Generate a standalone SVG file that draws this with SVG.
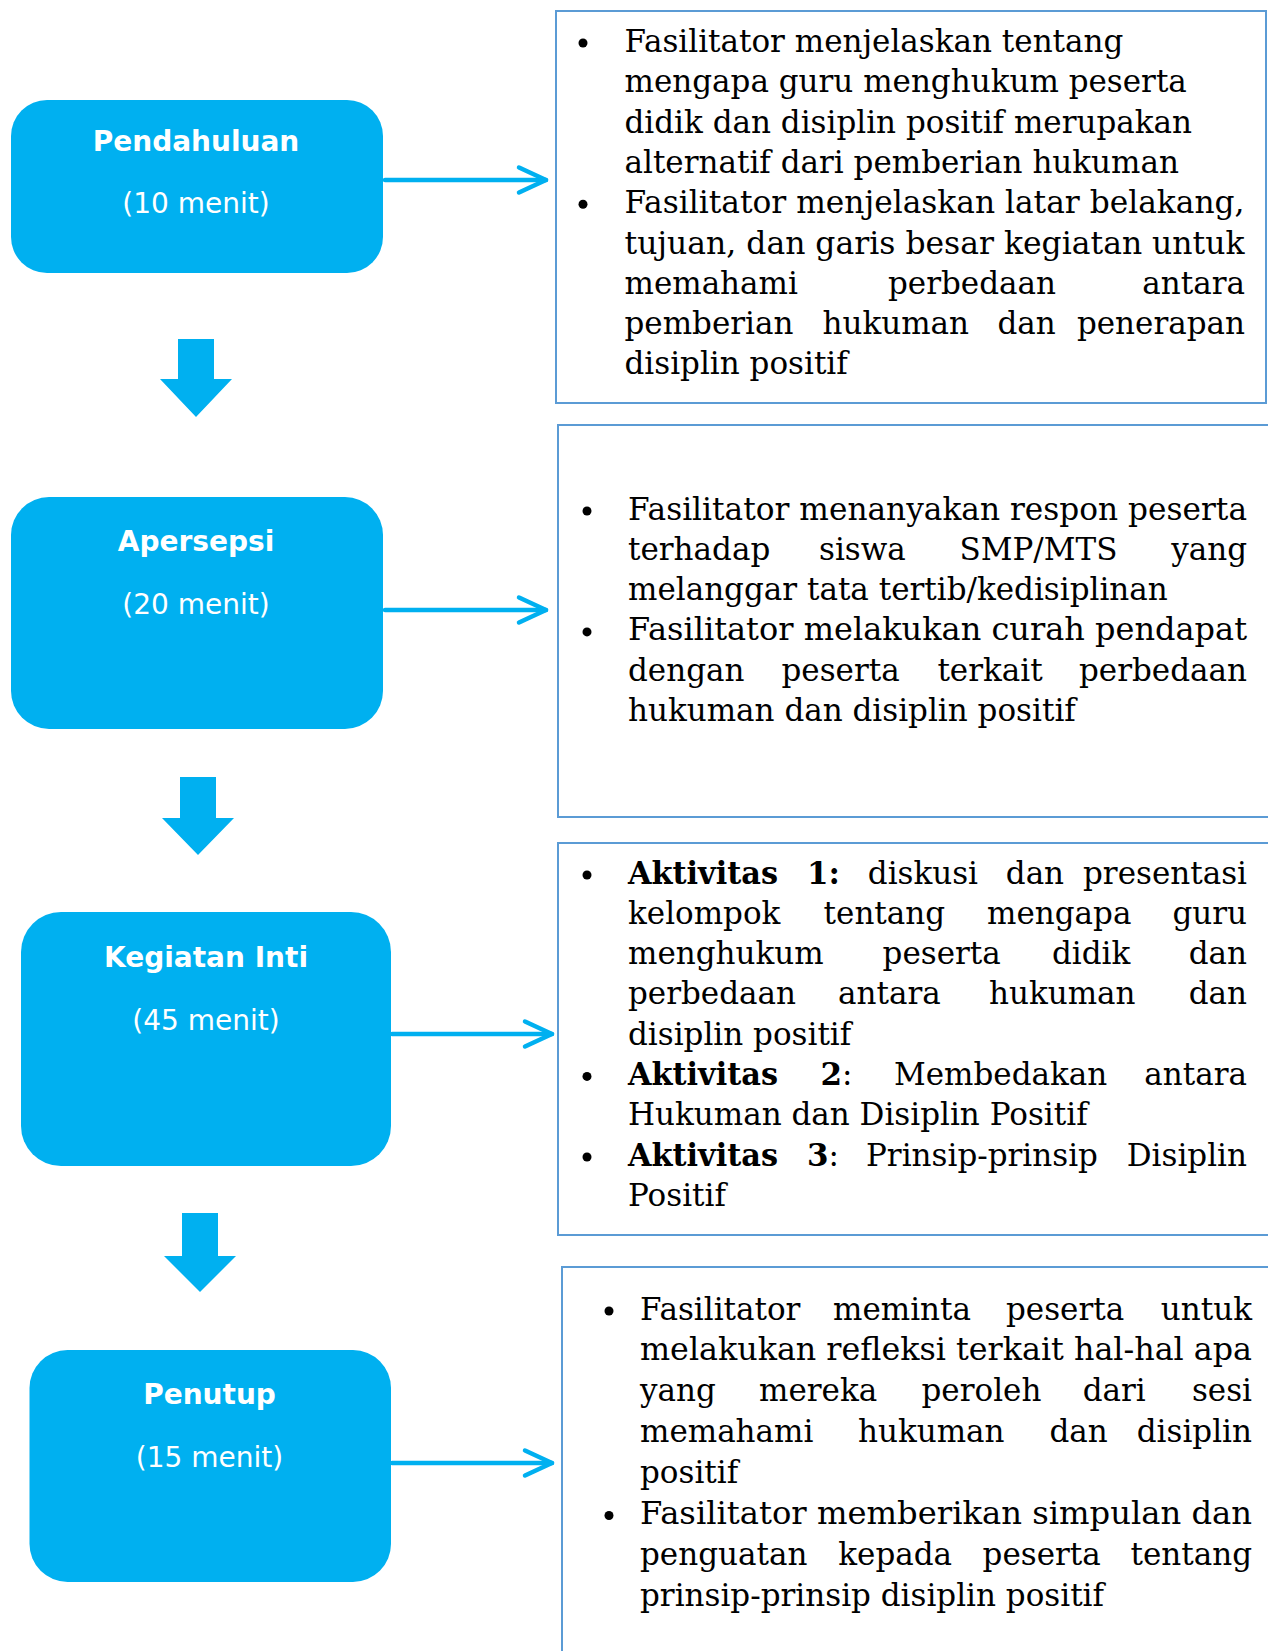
<svg xmlns="http://www.w3.org/2000/svg" width="1268" height="1651" viewBox="0 0 1268 1651">
<style>
.node{fill:#00B0F0}
.lbl{font-family:"DejaVu Sans",Verdana,sans-serif;font-size:28px;fill:#fff;text-anchor:middle}
.lb{font-weight:bold}
.box{fill:#fff;stroke:#5B9BD5;stroke-width:2}
.t{font-family:"DejaVu Serif","Liberation Serif",serif;font-size:31px;fill:#000}
.b{font-weight:bold}
.e{text-anchor:end}
.conn{stroke:#00B0F0;stroke-width:4.5;fill:none;stroke-linecap:round;stroke-linejoin:round}
.down{fill:#00B0F0}
.dot{fill:#000}
</style>
<rect width="1268" height="1651" fill="#fff"/>

<g id="connectors">
  <line class="conn" x1="385" y1="180" x2="546" y2="180"/>
  <polyline class="conn" points="519,167.5 546,180 519,192.5"/>
  <line class="conn" x1="385" y1="610" x2="546" y2="610"/>
  <polyline class="conn" points="519,597.5 546,610 519,622.5"/>
  <line class="conn" x1="392" y1="1034" x2="552" y2="1034"/>
  <polyline class="conn" points="525,1021.5 552,1034 525,1046.5"/>
  <line class="conn" x1="392" y1="1463" x2="552" y2="1463"/>
  <polyline class="conn" points="525,1450.5 552,1463 525,1475.5"/>
  <polygon class="down" points="178,339 214,339 214,379 232,379 196,417 160,379 178,379"/>
  <polygon class="down" points="180,777 216,777 216,818 234,818 198,855 162,818 180,818"/>
  <polygon class="down" points="182,1213 218,1213 218,1256 236,1256 200,1292 164,1256 182,1256"/>
</g>

<g id="pendahuluan">
  <rect class="node" x="11" y="100" width="372" height="173" rx="36"/>
  <text class="lbl lb" x="196" y="151">Pendahuluan</text>
  <text class="lbl" x="196" y="213">(10 menit)</text>
</g>

<g id="apersepsi">
  <rect class="node" x="11" y="497" width="372" height="232" rx="38"/>
  <text class="lbl lb" x="196" y="551">Apersepsi</text>
  <text class="lbl" x="196" y="614">(20 menit)</text>
</g>

<g id="kegiatan-inti">
  <rect class="node" x="21" y="912" width="370" height="254" rx="40"/>
  <text class="lbl lb" x="206" y="967">Kegiatan Inti</text>
  <text class="lbl" x="206" y="1030">(45 menit)</text>
</g>

<g id="penutup">
  <rect class="node" x="29.5" y="1350" width="361.5" height="232" rx="38"/>
  <text class="lbl lb" x="209.5" y="1404">Penutup</text>
  <text class="lbl" x="209.5" y="1467">(15 menit)</text>
</g>

<g id="box-pendahuluan">
  <rect class="box" x="556" y="11" width="710" height="392"/>
  <circle class="dot" cx="583" cy="43" r="4.5"/>
  <circle class="dot" cx="583" cy="204.2" r="4.5"/>
  <text class="t" x="624.5" y="52">Fasilitator menjelaskan tentang</text>
  <text class="t" x="624.5" y="92.3">mengapa guru menghukum peserta</text>
  <text class="t" x="624.5" y="132.6">didik dan disiplin positif merupakan</text>
  <text class="t" x="624.5" y="172.9">alternatif dari pemberian hukuman</text>
  <text class="t" x="624.5" y="213.2" textLength="620" lengthAdjust="spacingAndGlyphs">Fasilitator menjelaskan latar belakang,</text>
  <text class="t" x="624.5" y="253.5" textLength="620" lengthAdjust="spacingAndGlyphs">tujuan, dan garis besar kegiatan untuk</text>
  <text class="t" y="293.8"><tspan x="624.5">memahami</tspan><tspan x="888">perbedaan</tspan></text>
  <text class="t e" x="1245" y="293.8">antara</text>
  <text class="t" y="334.1"><tspan x="624.5">pemberian</tspan><tspan x="822.5">hukuman</tspan><tspan x="997.4">dan</tspan></text>
  <text class="t e" x="1245" y="334.1">penerapan</text>
  <text class="t" x="624.5" y="374.4">disiplin positif</text>
</g>

<g id="box-apersepsi">
  <rect class="box" x="558" y="425" width="712" height="392"/>
  <circle class="dot" cx="587" cy="511" r="4.5"/>
  <circle class="dot" cx="587" cy="631.9" r="4.5"/>
  <text class="t" x="628" y="519.5" textLength="619" lengthAdjust="spacingAndGlyphs">Fasilitator menanyakan respon peserta</text>
  <text class="t" y="559.8"><tspan x="628">terhadap</tspan><tspan x="819">siswa</tspan><tspan x="959.5">SMP/MTS</tspan></text>
  <text class="t e" x="1247" y="559.8">yang</text>
  <text class="t" x="628" y="600.1">melanggar tata tertib/kedisiplinan</text>
  <text class="t" x="628" y="640.4" textLength="619" lengthAdjust="spacingAndGlyphs">Fasilitator melakukan curah pendapat</text>
  <text class="t" y="680.7"><tspan x="628">dengan</tspan><tspan x="781.5">peserta</tspan><tspan x="937.4">terkait</tspan></text>
  <text class="t e" x="1247" y="680.7">perbedaan</text>
  <text class="t" x="628" y="721">hukuman dan disiplin positif</text>
</g>

<g id="box-kegiatan-inti">
  <rect class="box" x="558" y="843" width="712" height="392"/>
  <circle class="dot" cx="587" cy="875" r="4.5"/>
  <circle class="dot" cx="587" cy="1076.4" r="4.5"/>
  <circle class="dot" cx="587" cy="1157" r="4.5"/>
  <text class="t" y="883.5"><tspan class="b" x="628" textLength="150" lengthAdjust="spacingAndGlyphs">Aktivitas</tspan><tspan class="b" x="807">1:</tspan><tspan x="867.8">diskusi</tspan><tspan x="1005.8">dan</tspan></text>
  <text class="t e" x="1247" y="883.5">presentasi</text>
  <text class="t" y="923.8"><tspan x="628">kelompok</tspan><tspan x="823.6">tentang</tspan><tspan x="987">mengapa</tspan></text>
  <text class="t e" x="1247" y="923.8">guru</text>
  <text class="t" y="964.1"><tspan x="628">menghukum</tspan><tspan x="882.6">peserta</tspan><tspan x="1052">didik</tspan></text>
  <text class="t e" x="1247" y="964.1">dan</text>
  <text class="t" y="1004.4"><tspan x="628">perbedaan</tspan><tspan x="838">antara</tspan><tspan x="989">hukuman</tspan></text>
  <text class="t e" x="1247" y="1004.4">dan</text>
  <text class="t" x="628" y="1044.7">disiplin positif</text>
  <text class="t" y="1085"><tspan class="b" x="628" textLength="150" lengthAdjust="spacingAndGlyphs">Aktivitas</tspan><tspan class="b" x="820.5">2</tspan><tspan>:</tspan><tspan x="894">Membedakan</tspan></text>
  <text class="t e" x="1247" y="1085">antara</text>
  <text class="t" x="628" y="1125.3">Hukuman dan Disiplin Positif</text>
  <text class="t" y="1165.6"><tspan class="b" x="628" textLength="150" lengthAdjust="spacingAndGlyphs">Aktivitas</tspan><tspan class="b" x="807">3</tspan><tspan>:</tspan><tspan x="866">Prinsip-prinsip</tspan></text>
  <text class="t e" x="1247" y="1165.6">Disiplin</text>
  <text class="t" x="628" y="1205.9">Positif</text>
</g>

<g id="box-penutup">
  <rect class="box" x="562" y="1267" width="710" height="400"/>
  <circle class="dot" cx="609" cy="1311" r="4.5"/>
  <circle class="dot" cx="609" cy="1515.5" r="4.5"/>
  <text class="t" y="1319.5"><tspan x="640">Fasilitator</tspan><tspan x="833">meminta</tspan><tspan x="1006">peserta</tspan></text>
  <text class="t e" x="1252" y="1319.5">untuk</text>
  <text class="t" x="640" y="1360.4" textLength="612" lengthAdjust="spacingAndGlyphs">melakukan refleksi terkait hal-hal apa</text>
  <text class="t" y="1401.3"><tspan x="640">yang</tspan><tspan x="759">mereka</tspan><tspan x="921.5">peroleh</tspan><tspan x="1082.7">dari</tspan></text>
  <text class="t e" x="1252" y="1401.3">sesi</text>
  <text class="t" y="1442.2"><tspan x="640">memahami</tspan><tspan x="858">hukuman</tspan><tspan x="1049.4">dan</tspan></text>
  <text class="t e" x="1252" y="1442.2">disiplin</text>
  <text class="t" x="640" y="1483.1">positif</text>
  <text class="t" x="640" y="1524" textLength="612" lengthAdjust="spacingAndGlyphs">Fasilitator memberikan simpulan dan</text>
  <text class="t" y="1564.9"><tspan x="640">penguatan</tspan><tspan x="838.3">kepada</tspan><tspan x="982.6">peserta</tspan></text>
  <text class="t e" x="1252" y="1564.9">tentang</text>
  <text class="t" x="640" y="1605.8">prinsip-prinsip disiplin positif</text>
</g>
</svg>
